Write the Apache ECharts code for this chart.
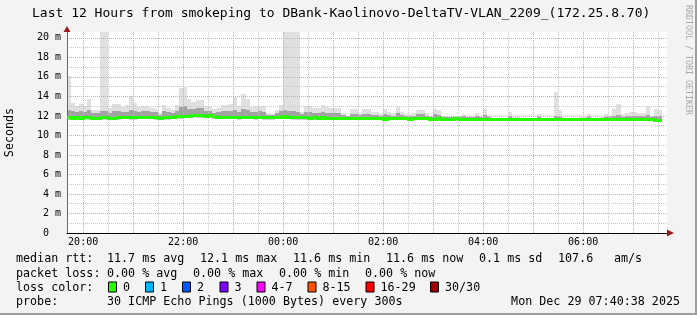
<!DOCTYPE html>
<html><head><meta charset="utf-8">
<script src="https://cdn.jsdelivr.net/npm/echarts@6/dist/echarts.min.js"></script>
<style>html,body{margin:0;padding:0;background:#f3f3f3}#c{width:697px;height:315px}</style>
</head><body><div id="c"></div><script>
const MONO = '"DejaVu Sans Mono", monospace';
// time settings (hours since midnight of the first day)
const binStartHour = 19 + 40 / 60;      // first 5-minute bin starts 19:40
const binHours = 5 / 60;
const viewStart = 19 + 40 / 60 + 38 / 3600; // 19:40:38
const viewEnd = viewStart + 12;             // 07:40:38

const medianRtt = [11.85,11.8,11.85,11.8,11.85,11.85,11.8,11.8,11.85,11.85,
11.8,11.8,11.85,11.85,11.85,11.85,11.85,11.9,11.9,11.85,
11.9,11.85,11.8,11.85,11.9,11.9,11.95,11.95,12.0,12.0,
12.1,12.05,12.05,12.0,12.05,11.95,11.9,11.9,11.85,11.9,
11.9,11.85,11.9,11.9,11.85,11.85,11.9,11.85,11.85,11.85,
11.85,11.9,11.95,11.9,11.9,11.85,11.85,11.85,11.8,11.85,
11.8,11.85,11.8,11.8,11.8,11.8,11.8,11.75,11.8,11.8,
11.8,11.8,11.75,11.8,11.8,11.75,11.7,11.75,11.75,11.75,
11.75,11.75,11.7,11.75,11.75,11.75,11.75,11.7,11.7,11.75,
11.7,11.7,11.7,11.75,11.7,11.7,11.7,11.7,11.7,11.7,
11.65,11.7,11.65,11.65,11.65,11.65,11.7,11.65,11.65,11.65,
11.65,11.65,11.65,11.7,11.65,11.65,11.65,11.7,11.65,11.65,
11.65,11.65,11.65,11.65,11.65,11.7,11.65,11.65,11.65,11.7,
11.7,11.7,11.7,11.7,11.7,11.7,11.7,11.7,11.7,11.7,
11.65,11.6,11.6];

const minRtt = [11.6,11.6,11.65,11.6,11.65,11.6,11.55,11.55,11.6,11.6,
11.55,11.6,11.6,11.65,11.65,11.6,11.6,11.65,11.7,11.65,
11.7,11.6,11.55,11.55,11.6,11.65,11.7,11.7,11.75,11.8,
11.85,11.8,11.8,11.75,11.8,11.7,11.65,11.7,11.65,11.7,
11.65,11.6,11.65,11.7,11.65,11.6,11.65,11.6,11.6,11.6,
11.65,11.7,11.7,11.65,11.6,11.55,11.6,11.6,11.6,11.6,
11.6,11.6,11.6,11.55,11.6,11.6,11.6,11.6,11.6,11.6,
11.6,11.6,11.6,11.6,11.6,11.6,11.55,11.6,11.6,11.6,
11.6,11.6,11.6,11.6,11.6,11.6,11.6,11.55,11.55,11.6,
11.6,11.6,11.6,11.6,11.6,11.6,11.6,11.6,11.6,11.6,
11.55,11.6,11.55,11.55,11.55,11.55,11.6,11.55,11.55,11.55,
11.55,11.55,11.55,11.6,11.55,11.55,11.55,11.6,11.55,11.55,
11.55,11.55,11.55,11.55,11.55,11.6,11.55,11.55,11.55,11.6,
11.6,11.6,11.6,11.6,11.6,11.6,11.6,11.6,11.6,11.6,
11.55,11.5,11.5];

const midRtt = [12.6,12.5,12.4,12.5,12.4,12.6,12.3,12.3,12.5,12.5,
12.3,12.5,12.5,12.4,12.4,12.6,12.5,12.4,12.5,12.5,
12.4,12.4,12.1,12.5,12.4,12.3,12.5,12.9,13.0,12.7,
12.7,12.8,12.8,12.5,12.5,12.3,12.4,12.5,12.5,12.5,
12.6,12.4,12.7,12.6,12.4,12.4,12.5,12.4,12.1,12.1,
12.3,12.5,12.6,12.5,12.5,12.4,12.2,12.4,12.4,12.3,
12.3,12.4,12.3,12.3,12.3,12.3,12.1,11.95,12.2,12.2,
12.1,12.2,12.2,12.1,12.1,12.0,12.2,12.1,12.0,12.3,
12.1,12.0,12.0,12.0,12.2,12.2,12.0,11.9,12.2,12.1,
11.9,11.85,11.85,11.9,11.85,11.95,11.85,11.85,12.0,11.85,
12.1,11.9,11.8,11.8,11.8,11.8,12.0,11.8,11.8,11.75,
11.75,11.75,11.75,11.9,11.75,11.75,11.75,12.0,11.9,11.75,
11.75,11.75,11.75,11.8,11.8,11.9,11.75,11.75,11.8,11.9,
11.9,12.0,12.1,11.9,11.95,12.0,12.0,11.95,11.95,12.1,
11.9,12.0,12.0];

const maxRtt = [16.1,13.3,13.0,13.2,13.0,13.7,12.6,12.6,21.5,21.5,
12.8,13.2,13.2,12.9,13.1,14.0,13.3,12.9,13.0,13.0,
12.8,12.7,12.3,13.1,12.8,12.6,13.1,14.9,15.0,13.7,
13.4,13.6,13.6,13.0,13.0,12.7,12.8,13.1,13.1,13.2,
13.95,13.0,14.2,13.7,12.9,13.0,13.0,13.0,12.3,12.2,
12.6,13.1,21.5,21.5,21.5,21.5,12.4,13.0,13.0,12.8,
12.8,13.1,12.9,12.8,12.8,12.8,12.3,12.0,12.7,12.7,
12.3,12.7,12.7,12.4,12.4,12.2,12.7,12.4,12.3,12.9,
12.4,12.2,12.2,12.3,12.6,12.6,12.3,12.0,12.7,12.6,
12.0,11.9,11.9,12.0,11.9,12.1,11.9,11.9,12.3,11.9,
12.7,12.0,11.8,11.8,11.8,11.8,12.4,11.9,11.9,11.8,
11.8,11.8,11.8,12.2,11.8,11.8,11.8,14.4,12.6,11.8,
11.8,11.8,11.8,11.85,11.85,12.2,11.8,11.8,11.85,12.2,
12.0,12.7,13.2,12.2,12.3,12.4,12.4,12.3,12.3,13.0,
12.0,12.7,12.6];

const hourLines = [20,21,22,23,24,25,26,27,28,29,30,31];
const halfHourLines = [20.5,21.5,22.5,23.5,24.5,25.5,26.5,27.5,28.5,29.5,30.5,31.5];
const hourLabels = [20,22,24,26,28,30];
const majorY = [0,2,4,6,8,10,12,14,16,18,20];
const minorY = [1,3,5,7,9,11,13,15,17,19];
const yMax = 20.6;

const titleText = 'Last 12 Hours from smokeping to DBank-Kaolinovo-DeltaTV-VLAN_2209_(172.25.8.70)';
const medianStats = ['11.7 ms avg','12.1 ms max','11.6 ms min','11.6 ms now','0.1 ms sd','107.6','am/s'];
const lossStats = ['0.00 % avg','0.00 % max','0.00 % min','0.00 % now'];
const lossLabels = ['0','1','2','3','4-7','8-15','16-29','30/30'];
const lossColors = ['#26ff00','#00b8ff','#0059ff','#7e00ff','#ff00ff','#ff5500','#ff0000','#a10000'];
const probeText = '30 ICMP Echo Pings (1000 Bytes) every 300s';
const dateText = 'Mon Dec 29 07:40:38 2025';

// layout constants
const medianX = [107,200,293,386,479,558,614];
const lossX = [107,193,279,365];
const lossBoxX = [108,145,182,219.5,256.5,307.5,365.5,430];
const rowY = [259,273.5,287.5,301.5];

const smokeData = medianRtt.map((m, i) => [binStartHour + i * binHours, binStartHour + (i + 1) * binHours, minRtt[i], m, midRtt[i], maxRtt[i]]);
const medianData = medianRtt.map((m, i) => [binStartHour + i * binHours, binStartHour + (i + 1) * binHours, m, i > 0 ? medianRtt[i - 1] : m]);

const pad = n => (n < 10 ? '0' : '') + n;
const redGrid = { show: true, lineStyle: { color: '#f09a9a', type: [1, 1], width: 1 } };
const greyGrid = { show: true, lineStyle: { color: '#c8c8c8', type: [1, 1], width: 1 } };

function txt(x, y, text, opts) {
  return Object.assign({ type: 'text', x: x, y: y, z: 100,
    style: Object.assign({ text: text, font: '11.7px ' + MONO, fill: '#000',
      align: 'left', verticalAlign: 'middle', textAlign: 'left', textVerticalAlign: 'middle' }, (opts && opts.style) || {}) },
    opts && opts.rotation !== undefined ? { rotation: opts.rotation } : {});
}

const graphics = [];
graphics.push(txt(32, 14, titleText, { style: { font: '13px ' + MONO } }));
graphics.push(txt(688, 5, 'RRDTOOL / TOBI OETIKER', { rotation: -Math.PI / 2, style: { font: '8.3px ' + MONO, fill: '#a8a8a8' } }));
graphics.push(txt(10, 132.5, 'Seconds', { rotation: Math.PI / 2, style: { align: 'center', textAlign: 'center' } }));
graphics.push(txt(16, rowY[0], 'median rtt:'));
medianStats.forEach((s, i) => graphics.push(txt(medianX[i], rowY[0], s)));
graphics.push(txt(16, rowY[1], 'packet loss:'));
lossStats.forEach((s, i) => graphics.push(txt(lossX[i], rowY[1], s)));
graphics.push(txt(16, rowY[2], 'loss color:'));
lossLabels.forEach((s, i) => {
  graphics.push({ type: 'rect', z: 100, shape: { x: lossBoxX[i] + 0.5, y: rowY[2] - 5.5, width: 8, height: 10 },
    style: { fill: lossColors[i], stroke: '#000', lineWidth: 1 } });
  graphics.push(txt(lossBoxX[i] + 15, rowY[2], s));
});
graphics.push(txt(16, rowY[3], 'probe:'));
graphics.push(txt(107, rowY[3], probeText));
graphics.push(txt(680, rowY[3], dateText, { style: { align: 'right', textAlign: 'right' } }));
// axis arrows
graphics.push({ type: 'polygon', z: 100, shape: { points: [[63.5, 32], [70.5, 32], [67, 26]] }, style: { fill: '#9b1c1c' } });
graphics.push({ type: 'polygon', z: 100, shape: { points: [[667, 229.5], [667, 236.5], [674, 233]] }, style: { fill: '#9b1c1c' } });
// frame shadow
graphics.push({ type: 'rect', z: 100, shape: { x: 695, y: 0, width: 2, height: 315 }, style: { fill: '#9e9e9e' } });
graphics.push({ type: 'rect', z: 100, shape: { x: 0, y: 313, width: 697, height: 2 }, style: { fill: '#9e9e9e' } });

function clipTo(params, r) {
  const cs = params.coordSys;
  return echarts.graphic.clipRectByRect(r, { x: cs.x, y: cs.y, width: cs.width, height: cs.height });
}

const chart = echarts.init(document.getElementById('c'), null, { renderer: 'canvas' });
chart.setOption({
  backgroundColor: '#f3f3f3',
  animation: false,
  grid: { left: 67, right: 30, top: 32, bottom: 82, show: true, backgroundColor: '#ffffff', borderWidth: 0 },
  xAxis: [
    { type: 'value', min: viewStart, max: viewEnd, z: 3,
      axisLine: { show: true, lineStyle: { color: '#000', width: 1 } },
      axisTick: { show: false, customValues: hourLines },
      axisLabel: { customValues: hourLabels, margin: 4, fontFamily: MONO, fontSize: 10, color: '#000',
        formatter: v => pad(Math.round(v) % 24) + ':00' },
      splitLine: redGrid },
    { type: 'value', min: viewStart, max: viewEnd, z: 3, position: 'bottom',
      axisLine: { show: false }, axisTick: { show: false, customValues: halfHourLines },
      axisLabel: { show: false }, splitLine: greyGrid }
  ],
  yAxis: [
    { type: 'value', min: 0, max: yMax, z: 3,
      axisLine: { show: true, lineStyle: { color: '#666', width: 1 } },
      axisTick: { show: false, customValues: majorY },
      axisLabel: { customValues: majorY, margin: 6, fontFamily: MONO, fontSize: 10, color: '#000',
        formatter: v => v === 0 ? '0  ' : v + ' m' },
      splitLine: redGrid },
    { type: 'value', min: 0, max: yMax, z: 3, position: 'left',
      axisLine: { show: false }, axisTick: { show: false, customValues: minorY },
      axisLabel: { show: false }, splitLine: greyGrid }
  ],
  series: [
    { type: 'custom', z: 2, clip: true, xAxisIndex: 0, yAxisIndex: 0,
      data: smokeData,
      encode: { x: [0, 1], y: [2, 3, 4, 5] },
      renderItem: function (params, api) {
        const x0 = Math.round(api.coord([api.value(0), 0])[0]);
        const x1 = Math.round(api.coord([api.value(1), 0])[0]);
        const yLo = Math.round(api.coord([0, api.value(2)])[1]);
        const yMed = Math.round(api.coord([0, api.value(3)])[1]);
        const yMid = Math.round(api.coord([0, api.value(4)])[1]);
        const yHi = Math.round(api.coord([0, api.value(5)])[1]);
        const mk = (ya, yb, color) => {
          const r = clipTo(params, { x: x0, y: Math.min(ya, yb), width: x1 - x0, height: Math.abs(yb - ya) });
          return r ? { type: 'rect', shape: r, style: { fill: color } } : null;
        };
        return { type: 'group', children: [
          mk(yLo, yMed, '#cfcfcf'),
          mk(yMed, yMid, '#a3a3a3'),
          mk(yMid, yHi, '#e0e0e0')
        ].filter(Boolean) };
      }
    },
    { type: 'custom', z: 4, clip: true, xAxisIndex: 0, yAxisIndex: 0,
      data: medianData,
      encode: { x: [0, 1], y: [2, 3] },
      renderItem: function (params, api) {
        const x0 = Math.round(api.coord([api.value(0), 0])[0]);
        const x1 = Math.round(api.coord([api.value(1), 0])[0]);
        const y = Math.round(api.coord([0, api.value(2)])[1]);
        const yp = Math.round(api.coord([0, api.value(3)])[1]);
        const parts = [];
        const h = clipTo(params, { x: x0, y: y - 1, width: x1 - x0, height: 3 });
        if (h) parts.push({ type: 'rect', shape: h, style: { fill: '#26ff00' } });
        if (yp !== y) {
          const v = clipTo(params, { x: x0 - 1, y: Math.min(y, yp) - 1, width: 3, height: Math.abs(y - yp) + 3 });
          if (v) parts.push({ type: 'rect', shape: v, style: { fill: '#26ff00' } });
        }
        return { type: 'group', children: parts };
      }
    }
  ],
  graphic: graphics
});
</script></body></html>
